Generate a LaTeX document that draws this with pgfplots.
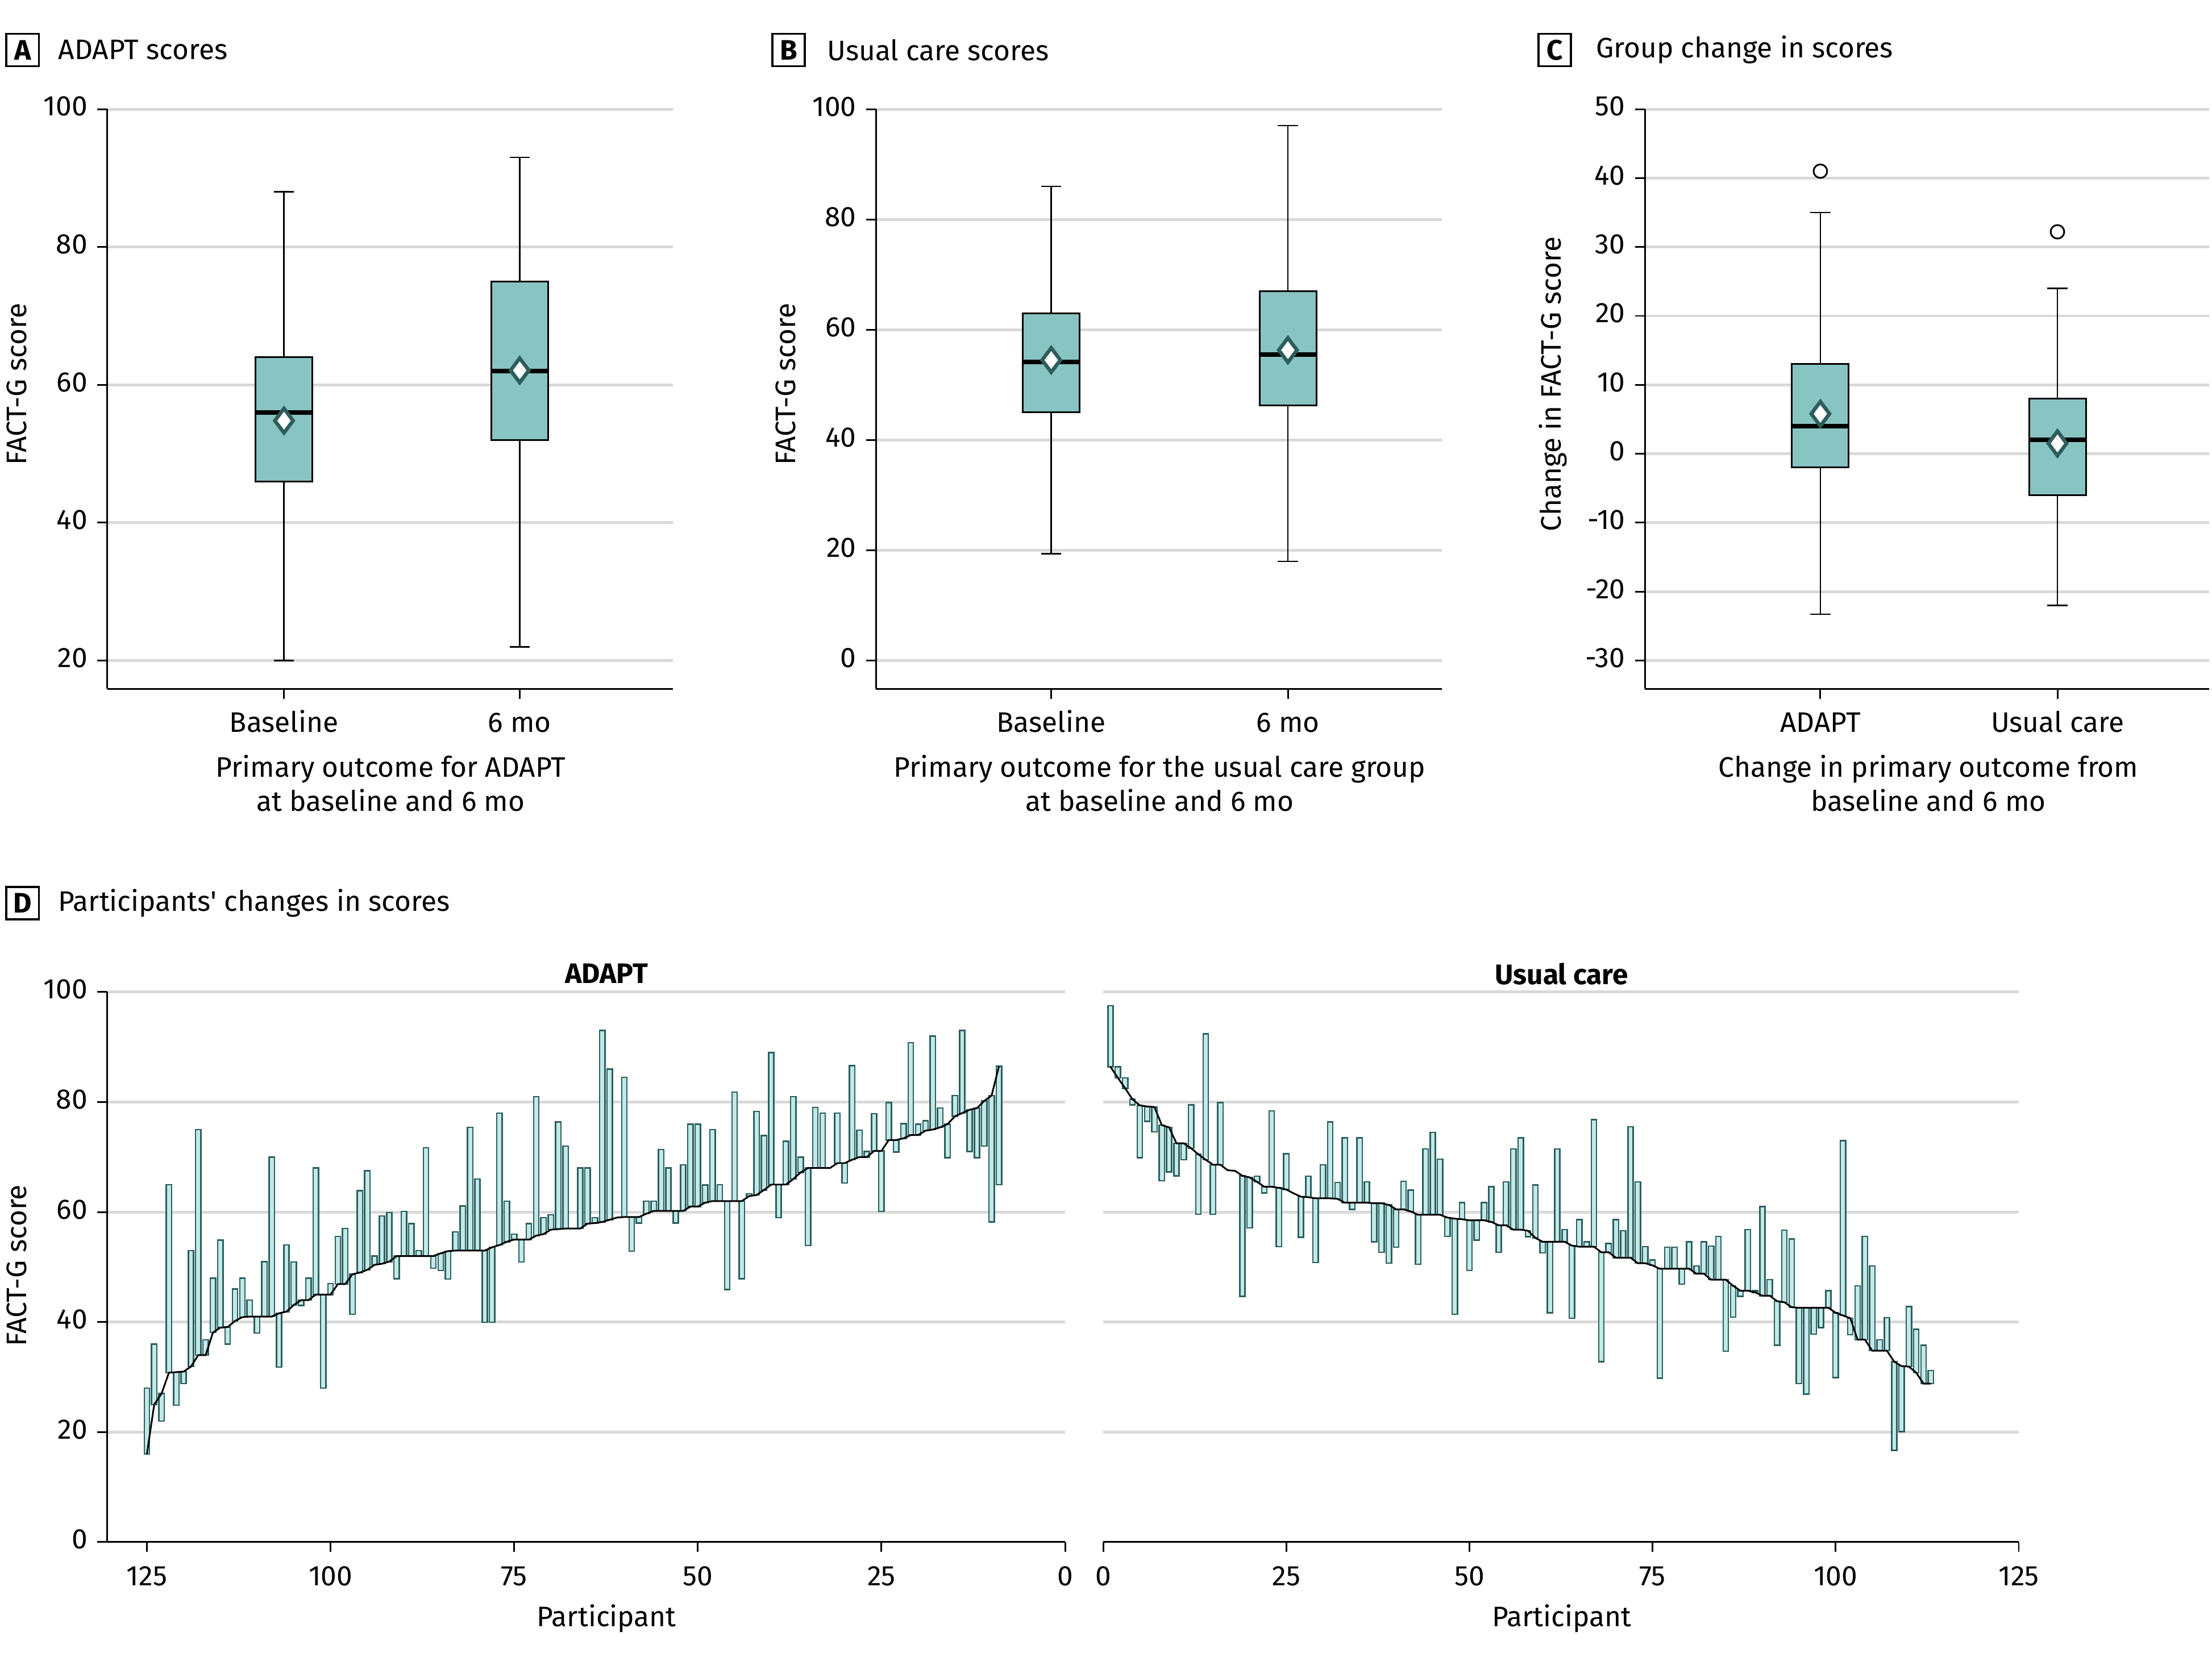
\documentclass[border=0pt]{standalone}
\usepackage{pgfplots}
\pgfplotsset{compat=1.18}
\usepackage{pgfplotstable}
\usepgfplotslibrary{statistics}
\usepackage{fontspec}
\setmainfont{Fira Sans}
\setsansfont{Fira Sans}
\definecolor{boxfill}{RGB}{136,196,194}
\definecolor{diamonddraw}{RGB}{45,94,92}
\definecolor{barfill}{RGB}{194,232,232}
\definecolor{bardraw}{RGB}{43,95,93}
\definecolor{gridgray}{RGB}{217,217,217}

\pgfplotstableread{
p b s
125 16 28
124 25 36
123 27 22
122 30.8 65
121 30.9 24.9
120 31 28.8
119 31.9 53
118 34 75
117 34 36.8
116 38.1 48
115 39 54.9
114 39.1 36
113 40.2 46
112 40.9 48
111 41 44
110 41 38
109 41 51
108 41 70
107 41.6 31.8
106 41.9 54
105 43.1 50.9
104 44 43
103 44 48
102 45 68
101 45 28
100 45 47
99 46.9 55.6
98 46.9 57
97 48.7 41.4
96 49 63.9
95 49.5 67.5
94 50.4 52
93 50.6 59.3
92 51 59.9
91 52 47.9
90 52 60.1
89 52 57.9
88 52 53
87 52 71.7
86 52 49.8
85 52.5 49.4
84 52.9 47.8
83 53 56.4
82 53 61.1
81 53 75.4
80 53 66
79 53 40
78 53.6 40
77 54 78
76 54.6 62
75 55 56
74 55 50.9
73 55 57.9
72 55.7 81
71 56 59
70 56.8 59.5
69 56.9 76.4
68 57 72
67 57 57
66 57 68
65 57.9 68
64 58 59
63 58.2 93
62 58.6 86
61 59 59
60 59.1 84.5
59 59.1 52.9
58 59.1 58
57 59.7 62
56 60.2 62
55 60.2 71.4
54 60.2 68
53 60.2 58
52 60.2 68.6
51 61 76
50 61 76
49 61.7 64.9
48 62 75
47 62 65
46 62 45.9
45 62 81.8
44 62 47.9
43 62.9 63.3
42 63.1 78.3
41 64 73.9
40 65 89
39 65 59
38 65 72.9
37 66 81
36 67.2 70
35 68 53.9
34 68 79
33 68 78
32 68 68
31 68.9 78
30 68.9 65.3
29 69.5 86.6
28 70 74.9
27 70 71
26 71.1 77.9
25 71.1 60.1
24 73.1 79.9
23 73.1 70.9
22 73.4 76.1
21 74 90.8
20 74 76
19 74.8 76.6
18 75 92
17 75.4 78.9
16 76 69.9
15 77.4 81.2
14 78 93
13 78.6 71
12 78.9 69.9
11 80.2 72
10 81.2 58.2
9 86.5 65
}\adapt

\pgfplotstableread{
p b s
1 86.4 97.5
2 84.4 86.4
3 82.5 84.4
4 80.5 79.5
5 79.4 69.9
6 79.2 76.5
7 79.1 74.6
8 75.8 65.7
9 75.4 67.3
10 72.5 66.6
11 72.5 69.5
12 71.6 79.5
13 70.5 59.6
14 69.5 92.4
15 68.6 59.6
16 68.6 79.9
17 67.6 67.6
18 67.5 67.5
19 66.6 44.7
20 66.3 57.1
21 65.5 66.5
22 64.6 63.5
23 64.6 78.4
24 64.4 53.7
25 64.1 70.6
26 63.4 63.4
27 62.8 55.4
28 62.7 66.5
29 62.5 50.8
30 62.5 68.6
31 62.5 76.4
32 62.4 65.4
33 61.7 73.5
34 61.7 60.5
35 61.7 73.5
36 61.7 65.5
37 61.6 54.6
38 61.6 52.7
39 61.3 50.7
40 60.5 53.6
41 60.5 65.6
42 60.1 64
43 59.5 50.5
44 59.5 71.5
45 59.5 74.5
46 59.5 69.6
47 59 55.6
48 58.8 41.4
49 58.7 61.7
50 58.5 49.4
51 58.5 54.9
52 58.5 61.7
53 58.2 64.6
54 57.6 52.7
55 57.6 65.5
56 56.8 71.5
57 56.8 73.5
58 56.6 55.5
59 55.3 64.9
60 54.6 52.6
61 54.6 41.7
62 54.6 71.5
63 54.6 56.8
64 53.9 40.7
65 53.7 58.6
66 53.7 54.6
67 53.7 76.8
68 52.7 32.8
69 52.7 54.3
70 51.7 58.6
71 51.7 56.6
72 51.7 75.5
73 50.7 65.5
74 50.7 53.7
75 50.3 51.3
76 49.7 29.8
77 49.7 53.6
78 49.7 53.6
79 49.7 46.9
80 49.7 54.6
81 48.8 50.2
82 48.8 54.6
83 47.7 53.8
84 47.7 55.6
85 47.7 34.7
86 46.6 40.9
87 45.7 44.7
88 45.7 56.8
89 45.4 45.7
90 44.8 61
91 44.8 47.7
92 43.8 35.8
93 43.6 56.7
94 42.7 55.1
95 42.6 28.8
96 42.6 26.9
97 42.6 37.8
98 42.6 39
99 42.6 45.7
100 41.7 29.9
101 41.2 73
102 40.7 37.7
103 36.8 46.6
104 36.8 55.6
105 34.8 50.2
106 34.8 36.8
107 34.8 40.8
108 32.8 16.7
109 32 20.1
110 31.9 42.8
111 30.8 38.7
112 28.8 35.8
113 28.8 31.2
}\usual

\pgfplotsset{
  panel/.style={
    scale only axis,
    anchor=south west,
    axis x line*=bottom,
    axis y line*=left,
    axis line style={black, line width=0.6pt},
    tick align=outside,
    major tick length=3.5pt,
    tick style={black, line width=0.6pt},
    ymajorgrids,
    major grid style={gridgray, line width=1pt},
    tick label style={font=\fontsize{10}{12}\selectfont},
    typeset ticklabels with strut,
    /pgf/number format/assume math mode=true,
    clip=false,
  },
  bp/.style={draw=black, fill=boxfill, line width=0.6pt,
    boxplot/draw direction=y,
    boxplot/every median/.style={line width=1.6pt},
    boxplot/every whisker/.style={line width=0.5pt}},
  meanmark/.style={only marks, mark=diamond*, mark size=4.3pt,
    mark options={fill=white, draw=diamonddraw, line width=1.3pt}},
  overlay/.style={scale only axis, anchor=south west, hide axis, clip=false},
}

\begin{document}
\begin{tikzpicture}
\useasboundingbox (0,0) rectangle (784pt,589.2pt);

% ---------- Panel A
\begin{axis}[panel, at={(38pt,345pt)}, width=200.5pt, height=205.5pt,
  xmin=0.25, xmax=2.65, ymin=15.9, ymax=100,
  ytick={20,40,...,100}, xtick={1,2}, xticklabels={Baseline,6 mo}]
\addplot[bp, boxplot prepared={draw direction=y, median=56, upper quartile=64, lower quartile=46,
  upper whisker=88, lower whisker=20, draw position=1, box extend=0.24, whisker extend=0.085}] coordinates {};
\addplot[bp, boxplot prepared={draw direction=y, median=62, upper quartile=75, lower quartile=52,
  upper whisker=93, lower whisker=22, draw position=2, box extend=0.24, whisker extend=0.085}] coordinates {};
\addplot[meanmark] coordinates {(1,54.8) (2,62.1)};
\end{axis}

% ---------- Panel B
\begin{axis}[panel, at={(310.5pt,345pt)}, width=200.5pt, height=205.5pt,
  xmin=0.26, xmax=2.65, ymin=-5.12, ymax=100,
  ytick={0,20,...,100}, xtick={1,2}, xticklabels={Baseline,6 mo}]
\addplot[bp, boxplot prepared={draw direction=y, median=54.2, upper quartile=63, lower quartile=45,
  upper whisker=86, lower whisker=19.4, draw position=1, box extend=0.24, whisker extend=0.085}] coordinates {};
\addplot[bp, boxplot prepared={draw direction=y, median=55.5, upper quartile=67, lower quartile=46.3,
  upper whisker=97, lower whisker=18, draw position=2, box extend=0.24, whisker extend=0.085}] coordinates {};
\addplot[meanmark] coordinates {(1,54.5) (2,56.3)};
\end{axis}

% ---------- Panel C
\begin{axis}[panel, at={(583pt,345pt)}, width=200pt, height=205.5pt,
  xmin=0.26, xmax=2.64, ymin=-34.1, ymax=50,
  ytick={-30,-20,...,50}, xtick={1,2}, xticklabels={ADAPT,Usual care}]
\addplot[bp, boxplot prepared={draw direction=y, median=4, upper quartile=13, lower quartile=-2,
  upper whisker=35, lower whisker=-23.3, draw position=1, box extend=0.24, whisker extend=0.085}] coordinates {};
\addplot[bp, boxplot prepared={draw direction=y, median=2, upper quartile=8, lower quartile=-6,
  upper whisker=24, lower whisker=-22, draw position=2, box extend=0.24, whisker extend=0.085}] coordinates {};
\addplot[only marks, mark=o, mark size=2.4pt, black, line width=0.6pt] coordinates {(1,41) (2,32.2)};
\addplot[meanmark] coordinates {(1,5.8) (2,1.5)};
\end{axis}

% ---------- Panel D left (ADAPT)
\begin{axis}[panel, at={(38pt,42.5pt)}, width=339.5pt, height=195pt,
  xmin=0, xmax=130.4, x dir=reverse, ymin=0, ymax=100,
  ytick={0,20,...,100}, xtick={0,25,...,125},
  ybar stacked, bar width=0.72]
\addplot[fill=none, draw=none] table[x=p, y expr={min(\thisrow{b},\thisrow{s})}] {\adapt};
\addplot[fill=barfill, draw=bardraw, line width=0.5pt] table[x=p, y expr={abs(\thisrow{s}-\thisrow{b})}] {\adapt};
\end{axis}
\begin{axis}[overlay, at={(38pt,42.5pt)}, width=339.5pt, height=195pt,
  xmin=0, xmax=130.4, x dir=reverse, ymin=0, ymax=100]
\addplot[black, line width=0.6pt, mark=none] table[x=p, y=b] {\adapt};
\end{axis}

% ---------- Panel D right (Usual care)
\begin{axis}[panel, at={(391pt,42.5pt)}, width=324.5pt, height=195pt,
  xmin=0, xmax=125, ymin=0, ymax=100,
  ytick={0,20,...,100}, yticklabels={}, ytick style={draw=none},
  y axis line style={draw=none},
  xtick={0,25,...,125},
  ybar stacked, bar width=0.72]
\addplot[fill=none, draw=none] table[x=p, y expr={min(\thisrow{b},\thisrow{s})}] {\usual};
\addplot[fill=barfill, draw=bardraw, line width=0.5pt] table[x=p, y expr={abs(\thisrow{s}-\thisrow{b})}] {\usual};
\end{axis}
\begin{axis}[overlay, at={(391pt,42.5pt)}, width=324.5pt, height=195pt,
  xmin=0, xmax=125, ymin=0, ymax=100]
\addplot[black, line width=0.6pt, mark=none] table[x=p, y=b] {\usual};
\end{axis}

% ---------- Texts
\tikzset{lettbox/.style={draw, line width=0.7pt, minimum size=11.5pt, inner sep=0pt, font=\bfseries\fontsize{10}{12}\selectfont},
  ttl/.style={anchor=west, inner sep=0pt, font=\fontsize{10}{12}\selectfont},
  lab/.style={align=center, inner sep=0pt, font=\fontsize{10}{12}\selectfont}}
\node[lettbox] at (8pt,571.5pt) {A};
\node[ttl] at (20.5pt,571.5pt) {ADAPT scores};
\node[lettbox] at (279.5pt,571.5pt) {B};
\node[ttl] at (293pt,571.5pt) {Usual care scores};
\node[lettbox] at (551pt,571.5pt) {C};
\node[ttl] at (565.5pt,571.5pt) {Group change in scores};
\node[lettbox] at (8pt,269pt) {D};
\node[ttl] at (20.5pt,269pt) {Participants\textquotesingle\ changes in scores};

\node[lab, rotate=90] at (6pt,453pt) {FACT-G score};
\node[lab, rotate=90] at (278.5pt,453pt) {FACT-G score};
\node[lab, rotate=90] at (550.5pt,453pt) {Change in FACT-G score};
\node[lab, rotate=90] at (6pt,140.5pt) {FACT-G score};

\node[lab] at (138.5pt,311.5pt) {Primary outcome for ADAPT\\at baseline and 6 mo};
\node[lab] at (411pt,311.5pt) {Primary outcome for the usual care group\\at baseline and 6 mo};
\node[lab] at (683.5pt,311.5pt) {Change in primary outcome from\\baseline and 6 mo};

\node[lab, font=\bfseries\fontsize{10}{12}\selectfont] at (215pt,244pt) {ADAPT};
\node[lab, font=\bfseries\fontsize{10}{12}\selectfont] at (553.5pt,244pt) {Usual care};
\node[lab] at (215pt,15.5pt) {Participant};
\node[lab] at (553.5pt,15.5pt) {Participant};
\end{tikzpicture}
\end{document}
